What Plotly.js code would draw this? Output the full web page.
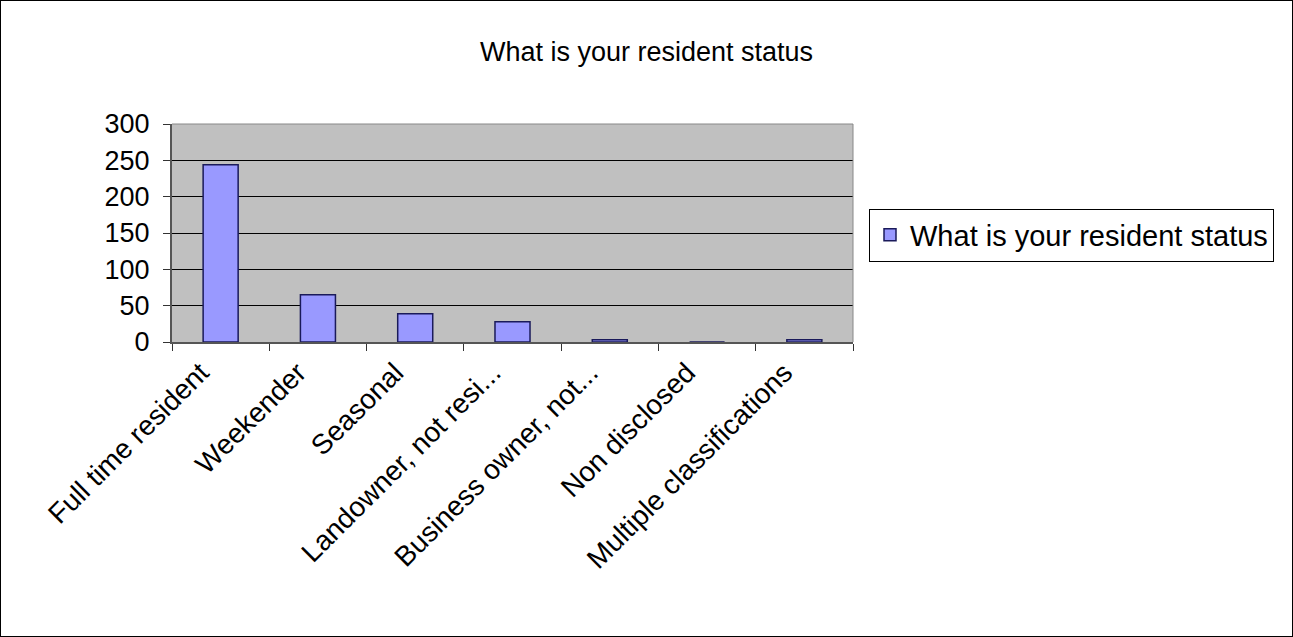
<!DOCTYPE html>
<html><head><meta charset="utf-8">
<script src="https://cdn.plot.ly/plotly-3.0.1.min.js"></script>
<style>
body{margin:0;background:#fff;}
#wrap{position:relative;width:1293px;height:637px;}
#chart{width:1293px;height:637px;}
#frame{position:absolute;left:0;top:0;width:1291px;height:635px;border:1px solid #000;pointer-events:none;}
</style></head>
<body><div id="wrap"><div id="chart"></div><div id="frame"></div></div>
<script>
const categories = ["Full time resident","Weekender","Seasonal","Landowner, not resi...","Business owner, not...","Non disclosed","Multiple classifications"];
const values = [244, 65, 39, 28, 3, 0, 3];
const seriesName = "What is your resident status";
const yTicks = [0,50,100,150,200,250,300];

const font = "Liberation Sans, Arial, sans-serif";
Plotly.newPlot("chart", [{
  type: "bar",
  x: categories,
  y: values,
  name: seriesName,
  showlegend: true,
  marker: {color: "#9999ff", line: {color: "#1a1a5a", width: 1.5}}
}], {
  width: 1293, height: 637,
  paper_bgcolor: "#ffffff",
  plot_bgcolor: "#c0c0c0",
  margin: {l: 172, r: 440, t: 124, b: 295},
  bargap: 0.64,
  title: {text: seriesName, font: {family: font, size: 27, color: "#000"}, x: 0.5, xref: "container", y: 1 - 52/637, yref: "container", yanchor: "middle"},
  xaxis: {
    type: "category",
    tickangle: -45,
    tickfont: {family: font, size: 28, color: "#000"},
    ticks: "outside", ticklen: 7, tickcolor: "#333", tickson: "boundaries",
    ticklabelstandoff: 1, ticklabelshift: -20,
    showline: true, linecolor: "#555", linewidth: 2,
    showgrid: false, automargin: false
  },
  yaxis: {
    range: [0, 300],
    tickvals: yTicks,
    tickfont: {family: font, size: 27, color: "#000"},
    ticks: "outside", ticklen: 7, tickcolor: "#333",
    ticklabelstandoff: 8,
    showline: true, linecolor: "#555", linewidth: 2, mirror: false,
    showgrid: true, gridcolor: "#000", gridwidth: 1,
    zeroline: false, automargin: false
  },
  shapes: [{type: "line", xref: "paper", yref: "paper", x0: 0, x1: 1, y0: 1, y1: 1, line: {color: "#888", width: 1}},
           {type: "line", xref: "paper", yref: "paper", x0: 1, x1: 1, y0: 0, y1: 1, line: {color: "#888", width: 1}}],
  legend: {
    x: (869-172)/681, y: (342-235)/218, xanchor: "left", yanchor: "middle",
    bgcolor: "#fff", bordercolor: "#000", borderwidth: 1,
    itemwidth: 30, tracegroupgap: 0,
    font: {family: font, size: 29, color: "#000"}
  }
}, {displayModeBar: false, staticPlot: true});
</script></body></html>
